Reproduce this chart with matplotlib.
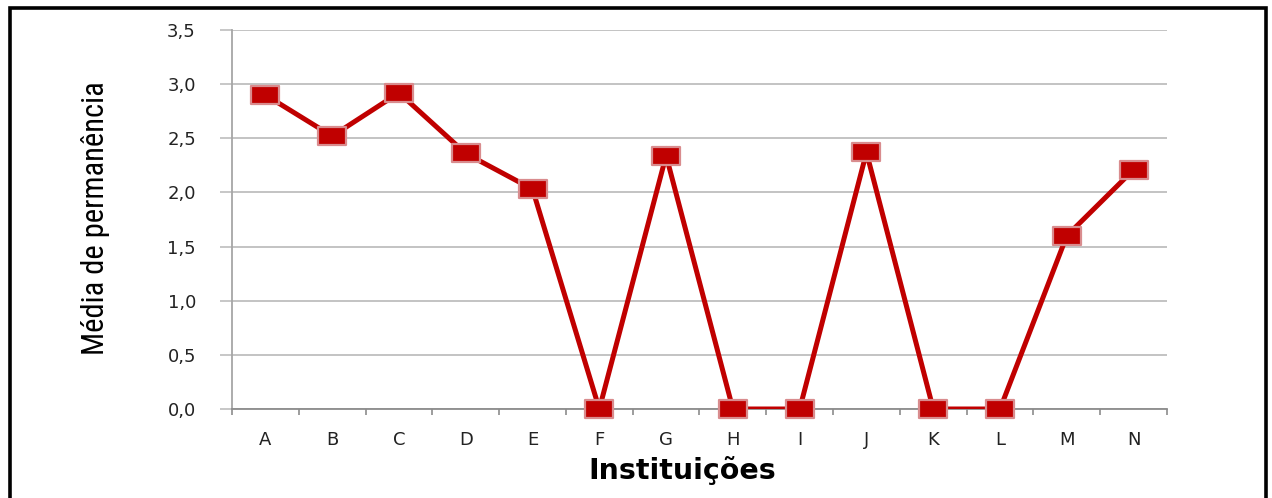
import matplotlib
matplotlib.use("Agg")
import matplotlib.pyplot as plt
from matplotlib import font_manager
from matplotlib.path import Path
from matplotlib.patches import Rectangle

# Mean length of stay per institution
institutions = ["A", "B", "C", "D", "E", "F", "G", "H", "I", "J", "K", "L", "M", "N"]
mean_stay = [2.90, 2.52, 2.92, 2.36, 2.03, 0.0, 2.34, 0.0, 0.0, 2.37, 0.0, 0.0, 1.60, 2.21]
y_ticks = [0.0, 0.5, 1.0, 1.5, 2.0, 2.5, 3.0, 3.5]
y_tick_labels = ["0,0", "0,5", "1,0", "1,5", "2,0", "2,5", "3,0", "3,5"]

# pick a condensed face for the vertical axis title if one is installed
fonts = font_manager.fontManager.ttflist
narrow_names = {f.name for f in fonts if "Narrow" in f.name or "Condensed" in f.name}
condensed_faces = [f for f in fonts if str(f.stretch) in ("condensed", "semi-condensed", "600", "500")
                   or (isinstance(f.stretch, int) and f.stretch < 500)]
if "Liberation Sans Narrow" in narrow_names:
    ylab_font = dict(family="Liberation Sans Narrow", fontsize=23)
elif "Roboto Condensed" in narrow_names:
    ylab_font = dict(family="Roboto Condensed", fontsize=22)
elif any(f.name == "DejaVu Sans" for f in condensed_faces):
    ylab_font = dict(family="DejaVu Sans", stretch="condensed", fontsize=20)
else:
    ylab_font = dict(family="Liberation Sans", fontsize=20)

W, H = 1272, 498
fig = plt.figure(figsize=(W / 100, H / 100), dpi=100)
fig.patch.set_facecolor("white")

ax = fig.add_axes([232 / W, 1 - 409 / H, (1167 - 232) / W, (409 - 30) / H])
x = list(range(len(institutions)))

# wide rectangular marker
rect = Path([(-0.8, -0.5), (0.8, -0.5), (0.8, 0.5), (-0.8, 0.5), (-0.8, -0.5)],
            [Path.MOVETO, Path.LINETO, Path.LINETO, Path.LINETO, Path.CLOSEPOLY])

ax.plot(x, mean_stay, color="#C00000", lw=3.6, solid_joinstyle="miter", zorder=3)
ax.plot(x, mean_stay, ls="none", marker=rect, ms=20, mfc="#C00000",
        mec="#D98C8E", mew=1.6, clip_on=False, zorder=4)

ax.set_xlim(-0.5, len(institutions) - 0.5)
ax.set_ylim(0, 3.5)
ax.set_yticks(y_ticks)
ax.set_yticklabels(y_tick_labels)
ax.set_xticks(x)
ax.set_xticklabels(institutions)
ax.set_xticks([i - 0.5 for i in range(len(institutions) + 1)], minor=True)

ax.tick_params(axis="x", which="major", length=0, pad=16, labelsize=13, colors="#222222")
ax.tick_params(axis="x", which="minor", length=4, width=1.2, color="#8C8C8C", direction="out")
ax.tick_params(axis="y", which="major", length=9, width=1.2, color="#BEBEBE", pad=17,
               labelsize=13, labelcolor="#222222")

ax.grid(axis="y", color="#BEBEBE", lw=1.3, zorder=0)
ax.set_axisbelow(True)
for side in ("top", "right"):
    ax.spines[side].set_visible(False)
ax.spines["left"].set_color("#A6A6A6")
ax.spines["left"].set_linewidth(1.3)
ax.spines["bottom"].set_color("#8C8C8C")
ax.spines["bottom"].set_linewidth(1.3)

fig.text(0.5 * (570 + 795) / W, 1 - 470 / H, "Instituições", ha="center", va="center",
         fontsize=20.5, fontweight="bold", family="DejaVu Sans")
fig.text(96 / W, 1 - 218 / H, "Média de permanência", rotation=90, ha="center",
         va="center", **ylab_font)

# chart frame (bottom edge falls outside the image)
fig.patches.append(Rectangle((10 / W, -0.05), (1266 - 10) / W, 1.05 - 8 / H,
                             transform=fig.transFigure, fill=False, ec="black", lw=2.6))

fig.savefig("out.png", dpi=100)
